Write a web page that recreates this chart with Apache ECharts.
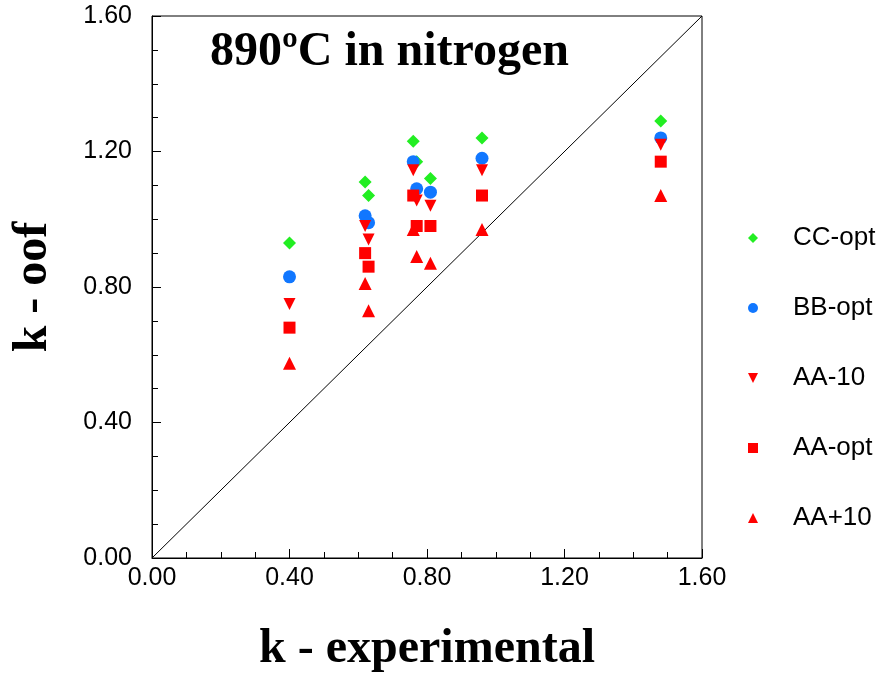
<!DOCTYPE html>
<html>
<head>
<meta charset="utf-8">
<script src="https://cdn.jsdelivr.net/npm/echarts@6/dist/echarts.min.js"></script>
<style>
html,body{margin:0;padding:0;background:#fff;}
#chart{width:880px;height:679px;}
</style>
</head>
<body>
<div id="chart"></div>
<script>
// k - experimental values (x) for each measured case
const kExp      = [0.40, 0.62, 0.63, 0.76, 0.77, 0.81, 0.96, 1.48];
// k - oof values (y) per model
const ccOpt     = [0.93, 1.11, 1.07, 1.23, 1.17, 1.12, 1.24, 1.29];
const bbOpt     = [0.83, 1.01, 0.99, 1.17, 1.09, 1.08, 1.18, 1.24];
const aaMinus10 = [0.75, 0.98, 0.94, 1.145, 1.055, 1.04, 1.145, 1.22];
const aaOpt     = [0.68, 0.90, 0.86, 1.07, 0.98, 0.98, 1.07, 1.17];
const aaPlus10  = [0.575, 0.81, 0.73, 0.97, 0.89, 0.87, 0.97, 1.07];
const seriesNames = ['CC-opt', 'BB-opt', 'AA-10', 'AA-opt', 'AA+10'];
const tickLabels = ['0.00', '0.40', '0.80', '1.20', '1.60'];
const diagonal = [[0, 0], [1.6, 1.6]];

const pairs = ys => kExp.map((x, i) => [x, ys[i]]);
const invTri = 'path://M0,0 L10,0 L5,10 Z';

const chart = echarts.init(document.getElementById('chart'), null, {renderer: 'canvas'});

const axisCommon = {
  min: 0, max: 1.6, interval: 0.4,
  axisLine: {show: true, lineStyle: {color: '#000', width: 1}},
  axisTick: {show: true, inside: true, length: 9, lineStyle: {color: '#000', width: 1}},
  minorTick: {show: true, splitNumber: 4, length: 6, lineStyle: {color: '#000', width: 1}},
  splitLine: {show: false},
  axisLabel: {
    color: '#000', fontFamily: 'Liberation Sans, Arial, sans-serif', fontSize: 25,
    formatter: v => tickLabels[Math.round(v / 0.4)]
  },
  nameTextStyle: {color: '#000', fontFamily: 'Liberation Serif, Times New Roman, serif', fontWeight: 'bold', fontSize: 48}
};

const sym = (name, symbol, size, color, data) => ({
  name, type: 'scatter', symbol, symbolSize: size, data,
  itemStyle: {color, opacity: 1}, z: 3
});

chart.setOption({
  animation: false,
  backgroundColor: '#fff',
  title: {
    text: '890ºC in nitrogen', left: 205, top: 24,
    textStyle: {color: '#000', fontFamily: 'Liberation Serif, Times New Roman, serif', fontWeight: 'bold', fontSize: 48}
  },
  grid: {left: 152, right: 178, top: 16, bottom: 119, show: true, borderColor: '#000', borderWidth: 1, backgroundColor: 'transparent'},
  legend: {
    orient: 'vertical', left: 743, top: 220,
    itemWidth: 10, itemHeight: 10, itemGap: 44,
    data: seriesNames,
    textStyle: {color: '#000', fontFamily: 'Liberation Sans, Arial, sans-serif', fontSize: 26, lineHeight: 25, padding: [0, 0, 0, 30]}
  },
  xAxis: Object.assign({}, axisCommon, {
    type: 'value', name: 'k - experimental', nameLocation: 'middle', nameGap: 68,
    axisLabel: Object.assign({}, axisCommon.axisLabel, {margin: 8})
  }),
  yAxis: Object.assign({}, axisCommon, {
    type: 'value', name: 'k - oof', nameLocation: 'middle', nameGap: 94,
    axisLabel: Object.assign({}, axisCommon.axisLabel, {margin: 20})
  }),
  series: [
    {type: 'line', data: diagonal, symbol: 'none', silent: true, lineStyle: {color: '#000', width: 1}, z: 1, legendHoverLink: false},
    sym('CC-opt', 'diamond', 13, '#22ee22', pairs(ccOpt)),
    sym('BB-opt', 'circle', 13, '#1177ff', pairs(bbOpt)),
    sym('AA-10', invTri, 12, '#ff0000', pairs(aaMinus10)),
    sym('AA-opt', 'rect', 12, '#ff0000', pairs(aaOpt)),
    sym('AA+10', 'triangle', 13, '#ff0000', pairs(aaPlus10))
  ]
});
</script>
</body>
</html>
